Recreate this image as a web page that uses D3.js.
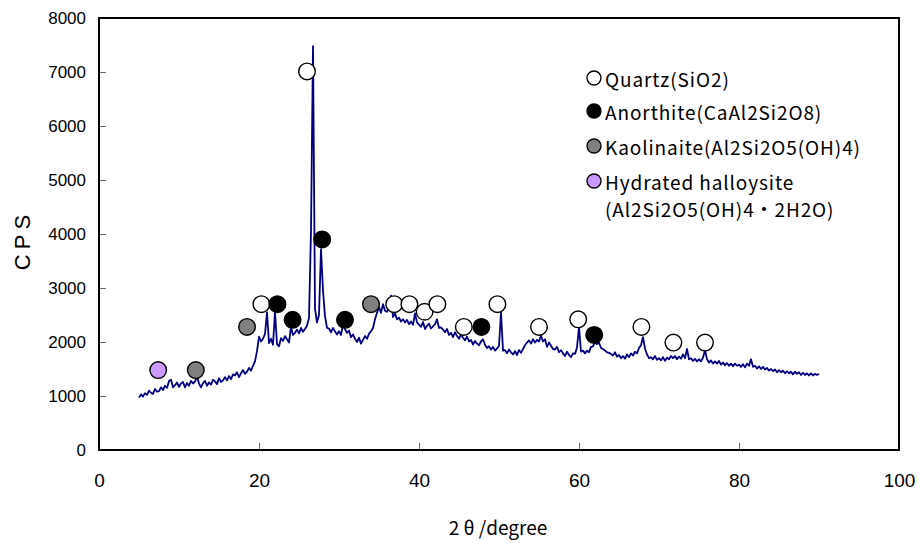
<!DOCTYPE html>
<html lang="ja">
<head>
<meta charset="utf-8">
<title>XRD pattern</title>
<script src="https://cdn.jsdelivr.net/npm/d3@7/dist/d3.min.js"></script>
<style>
  body { margin: 0; background: #fff; }
  svg { display: block; }
  .tick text { fill: #000; }
</style>
</head>
<body>
<div id="chart"></div>
<script>
// scan: 5 to 90 degree, 0.25 degree step, counts per second
var scanStart = 5, scanStep = 0.25;
var intensity = [
  970, 1030, 990, 1050,   1020, 1100, 1060, 1040,   1130, 1080, 1090, 1160,
  1110, 1190, 1150, 1280,   1300, 1160, 1200, 1250,   1170, 1230, 1260, 1160,
  1240, 1190, 1280, 1230,   1270, 1360, 1230, 1160,   1240, 1280, 1190, 1250,
  1210, 1300, 1270, 1220,   1330, 1260, 1290, 1350,   1290, 1370, 1310, 1400,
  1380, 1440, 1350, 1420,   1480, 1410, 1450, 1520,   1470, 1560, 1640, 1830,
  2100, 2010, 2060, 2150,   2550, 1980, 2060, 1950,   2560, 1960, 1920, 2070,
  2020, 2110, 2050, 1990,   2280, 2130, 2170, 2230,   2160, 2260, 2190, 2240,
  2300, 2450, 4050, 7480,   2620, 2360, 2500, 3720,   2950, 2480, 2260, 2250,
  2180, 2260, 2200, 2140,   2200, 2130, 2330, 2240,   2170, 2210, 2090, 2140,
  2060, 2000, 2080, 1970,   2040, 2110, 2060, 2150,   2200, 2260, 2420, 2540,
  2650, 2540, 2700, 2580,   2560, 2640, 2860, 2460,   2530, 2420, 2450, 2380,
  2420, 2360, 2410, 2330,   2380, 2320, 2530, 2360,   2320, 2280, 2370, 2240,
  2300, 2340, 2250, 2290,   2330, 2420, 2260, 2270,   2230, 2180, 2240, 2130,
  2170, 2090, 2180, 2110,   2060, 2140, 2080, 2030,   2100, 2010, 2040, 1950,
  2020, 1970, 1940, 2010,   2050, 1950, 1890, 1920,   1860, 1910, 1840, 1880,
  1930, 2550, 1840, 1850,   1790, 1860, 1810, 1770,   1830, 1760, 1850, 1800,
  1870, 1940, 1990, 2030,   1970, 2050, 1990, 2040,   2010, 2120, 2010, 2050,
  1910, 1990, 1930, 1870,   1860, 1910, 1810, 1850,   1790, 1740, 1820, 1760,
  1720, 1790, 1780, 1900,   2280, 1820, 1840, 1790,   1840, 1810, 1910, 1920,
  2010, 1960, 1990, 1890,   1870, 1840, 1810, 1800,   1780, 1750, 1810, 1730,
  1760, 1700, 1740, 1690,   1770, 1720, 1790, 1750,   1820, 1790, 1890, 1940,
  2090, 1880, 1770, 1700,   1720, 1680, 1740, 1670,   1700, 1660, 1720, 1650,
  1710, 1680, 1740, 1700,   1740, 1680, 1730, 1690,   1770, 1700, 1870, 1680,
  1700, 1650, 1690, 1640,   1680, 1640, 1710, 1850,   1680, 1620, 1660, 1600,
  1640, 1600, 1650, 1580,   1620, 1570, 1610, 1560,   1600, 1550, 1600, 1560,
  1580, 1540, 1590, 1530,   1600, 1560, 1680, 1540,   1560, 1510, 1550, 1500,
  1540, 1490, 1520, 1470,   1500, 1460, 1490, 1440,   1480, 1440, 1470, 1420,
  1460, 1420, 1450, 1400,   1450, 1410, 1440, 1390,   1430, 1390, 1420, 1380,
  1420, 1380, 1410, 1390,   1410
];

// peak markers [2theta, CPS]
var quartzMarks = [[20.3, 2700], [26.0, 7010], [36.9, 2700], [38.8, 2700], [40.7, 2560],
  [42.3, 2700], [45.6, 2280], [49.8, 2700], [55.0, 2280], [59.9, 2420],
  [67.8, 2280], [71.8, 1990], [75.75, 1990]];
var anorthiteMarks = [[22.3, 2700], [24.2, 2410], [27.9, 3900], [30.75, 2410],
  [47.8, 2280], [61.9, 2130]];
var kaoliniteMarks = [[12.1, 1480], [18.5, 2280], [34.0, 2700]];
var halloysiteMarks = [[7.4, 1480]];

var legendLabels = [
  ["Quartz(SiO2)"],
  ["Anorthite(CaAl2Si2O8)"],
  ["Kaolinaite(Al2Si2O5(OH)4)"],
  ["Hydrated halloysite", "(Al2Si2O5(OH)4・2H2O)"]
];
var markColors = ["#ffffff", "#000000", "#808080", "#cc99ff"];

var xTicks = [0, 20, 40, 60, 80, 100];
var yTicks = [0, 1000, 2000, 3000, 4000, 5000, 6000, 7000, 8000];

var W = 919, H = 543;
var m = {left: 99, top: 18};
var pw = 800, ph = 432;

var svg = d3.select("#chart").append("svg")
  .attr("width", W).attr("height", H);

var x = d3.scaleLinear().domain([0, 100]).range([m.left, m.left + pw]);
var y = d3.scaleLinear().domain([0, 8000]).range([m.top + ph, m.top]);

// axes with inward ticks
var yAxis = svg.append("g")
  .attr("transform", "translate(" + m.left + ",0)")
  .call(d3.axisLeft(y).tickValues(yTicks).tickFormat(d3.format("d"))
    .tickSizeInner(-7).tickSizeOuter(0).tickPadding(13));
yAxis.select(".domain").remove();
yAxis.selectAll(".tick line").attr("stroke", "#666");
yAxis.selectAll(".tick text")
  .style("font-family", "'Liberation Sans', Arial, sans-serif")
  .style("font-size", "17px");

var xAxis = svg.append("g")
  .attr("transform", "translate(0," + (m.top + ph) + ")")
  .call(d3.axisBottom(x).tickValues(xTicks).tickSizeInner(-7).tickSizeOuter(0).tickPadding(24));
xAxis.select(".domain").remove();
xAxis.selectAll(".tick line").attr("stroke", "#666");
xAxis.selectAll(".tick text")
  .style("font-family", "'Liberation Sans Narrow', 'Liberation Sans', sans-serif")
  .style("font-size", "19px");

// plot frame
svg.append("path")
  .attr("d", "M" + m.left + "," + m.top + "H" + (m.left + pw) + "V" + (m.top + ph) +
    "H" + m.left + "Z")
  .attr("fill", "none").attr("stroke", "#000").attr("stroke-width", 2);

// pattern
var line = d3.line()
  .x(function(d, i) { return x(scanStart + i * scanStep); })
  .y(function(d) { return y(d); });

svg.append("path")
  .datum(intensity)
  .attr("d", line)
  .attr("fill", "none")
  .attr("stroke", "#000080")
  .attr("stroke-width", 1.8)
  .attr("stroke-linejoin", "round");

// peak markers
[quartzMarks, anorthiteMarks, kaoliniteMarks, halloysiteMarks].forEach(function(set, k) {
  svg.append("g").selectAll("circle")
    .data(set)
    .enter().append("circle")
    .attr("cx", function(d) { return x(d[0]); })
    .attr("cy", function(d) { return y(d[1]); })
    .attr("r", 8.3)
    .attr("fill", markColors[k])
    .attr("stroke", "#000")
    .attr("stroke-width", 1.4);
});

// legend
var legendY = [78, 111, 146, 181];
var legend = svg.append("g").attr("font-family", "'Noto Sans CJK JP', sans-serif")
  .attr("font-size", "19px").attr("letter-spacing", "0.9px");
legendLabels.forEach(function(lines, k) {
  legend.append("circle")
    .attr("cx", 594).attr("cy", legendY[k]).attr("r", 7)
    .attr("fill", markColors[k]).attr("stroke", "#000").attr("stroke-width", 1.4);
  lines.forEach(function(t, j) {
    legend.append("text")
      .attr("x", 605).attr("y", legendY[k] + 9 + j * 27)
      .text(t);
  });
});

// axis titles
svg.append("text")
  .attr("transform", "translate(30,240) rotate(-90)")
  .attr("text-anchor", "middle")
  .style("font-family", "'Liberation Sans', Arial, sans-serif")
  .style("font-size", "22px")
  .style("letter-spacing", "5px")
  .text("CPS");

svg.append("text")
  .attr("x", 498).attr("y", 535)
  .attr("text-anchor", "middle")
  .style("font-family", "'Noto Sans CJK JP', sans-serif")
  .style("font-size", "19px")
  .text("2 θ /degree");
</script>
</body>
</html>
